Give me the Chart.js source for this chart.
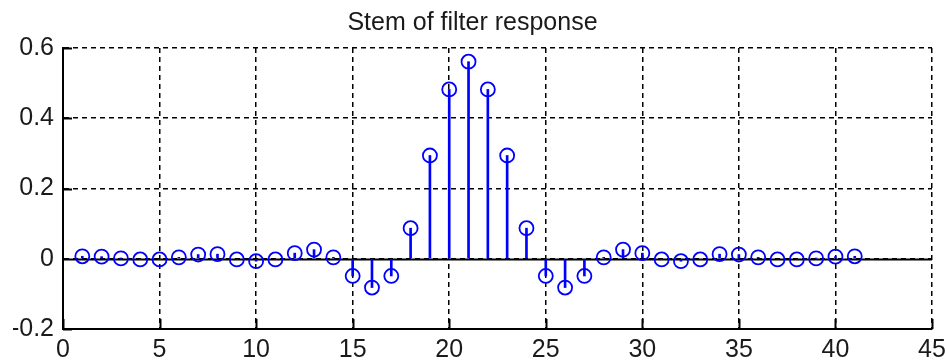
<!DOCTYPE html>
<html>
<head>
<meta charset="utf-8">
<script src="https://cdn.jsdelivr.net/npm/chart.js@4"></script>
<style>
  html, body { margin: 0; padding: 0; background: #fff; }
  #wrap { width: 945px; height: 364px; }
</style>
</head>
<body>
<div id="wrap"><canvas id="stemChart"></canvas></div>
<script>
// sample index n and filter response h[n]
const sampleIndex = [1, 2, 3, 4, 5, 6, 7, 8, 9, 10, 11, 12, 13, 14, 15, 16, 17, 18, 19, 20, 21,
  22, 23, 24, 25, 26, 27, 28, 29, 30, 31, 32, 33, 34, 35, 36, 37, 38, 39, 40, 41];
const response = [0.007, 0.006, 0.001, -0.002, -0.002, 0.004, 0.012, 0.013, -0.002, -0.007, -0.002,
  0.016, 0.026, 0.004, -0.049, -0.082, -0.049, 0.087, 0.294, 0.482, 0.561, 0.482, 0.294, 0.087,
  -0.049, -0.082, -0.049, 0.004, 0.026, 0.016, -0.002, -0.007, -0.002, 0.013, 0.012, 0.004,
  -0.002, -0.002, 0.001, 0.006, 0.007];
const xTicks = [0, 5, 10, 15, 20, 25, 30, 35, 40, 45];
const yTicks = [-0.2, 0, 0.2, 0.4, 0.6];

const points = sampleIndex.map((n, i) => ({ x: n, y: response[i] }));
const font = { family: 'Liberation Sans', size: 25 };

// matlab-ish inside tick marks + stem baseline
const matlabAxes = {
  id: 'matlabAxes',
  beforeDatasetsDraw(chart) {
    const { ctx, chartArea: a, scales: { x, y } } = chart;
    ctx.save();
    ctx.strokeStyle = '#000';
    ctx.lineWidth = 2;
    ctx.setLineDash([]);
    ctx.beginPath();
    const y0 = Math.round(y.getPixelForValue(0)) + 0.5;
    ctx.moveTo(a.left, y0);
    ctx.lineTo(a.right, y0);
    x.ticks.forEach(t => {
      const px = Math.round(x.getPixelForValue(t.value)) + 0.5;
      ctx.moveTo(px, a.bottom);
      ctx.lineTo(px, a.bottom - 10);
    });
    y.ticks.forEach(t => {
      const py = Math.round(y.getPixelForValue(t.value)) + 0.5;
      ctx.moveTo(a.left, py);
      ctx.lineTo(a.left + 9, py);
    });
    ctx.stroke();
    ctx.restore();
  }
};

new Chart(document.getElementById('stemChart'), {
  type: 'bar',
  data: {
    datasets: [
      {
        type: 'scatter', data: points, order: 0,
        pointStyle: 'circle', pointRadius: 7, pointBorderWidth: 1.8,
        borderColor: '#0000ff', backgroundColor: 'rgba(0,0,0,0)'
      },
      {
        type: 'bar', data: points, order: 1,
        backgroundColor: '#0000ff', barThickness: 2, grouped: false
      }
    ]
  },
  options: {
    responsive: true, maintainAspectRatio: false, animation: false, events: [],
    layout: { padding: { left: 13, top: 0, right: 13, bottom: 0 } },
    plugins: {
      legend: { display: false },
      tooltip: { enabled: false },
      title: {
        display: true, text: 'Stem of filter response', color: '#1a1a1a',
        font: { family: 'Liberation Sans', size: 25, weight: 'normal' },
        padding: { top: 8, bottom: 10 }
      }
    },
    scales: {
      x: {
        type: 'linear', min: 0, max: 45, offset: false,
        afterBuildTicks: s => { s.ticks = xTicks.map(v => ({ value: v })); },
        afterFit: s => { s.height = 35; s.paddingLeft = 0; s.paddingRight = 0; },
        grid: { color: '#000', lineWidth: 1.5, drawTicks: false, offset: false },
        border: { display: true, color: '#000', width: 2, dash: [5, 4] },
        ticks: { padding: 6, font: font, color: '#1a1a1a', maxRotation: 0 }
      },
      y: {
        min: -0.2, max: 0.6,
        afterBuildTicks: s => { s.ticks = yTicks.map(v => ({ value: v })); },
        afterFit: s => { s.width = 50; },
        grid: { color: '#000', lineWidth: 1.5, drawTicks: false },
        border: { display: true, color: '#000', width: 2, dash: [5, 4] },
        ticks: { padding: 9, font: font, color: '#1a1a1a' }
      }
    }
  },
  plugins: [matlabAxes]
});
</script>
</body>
</html>
